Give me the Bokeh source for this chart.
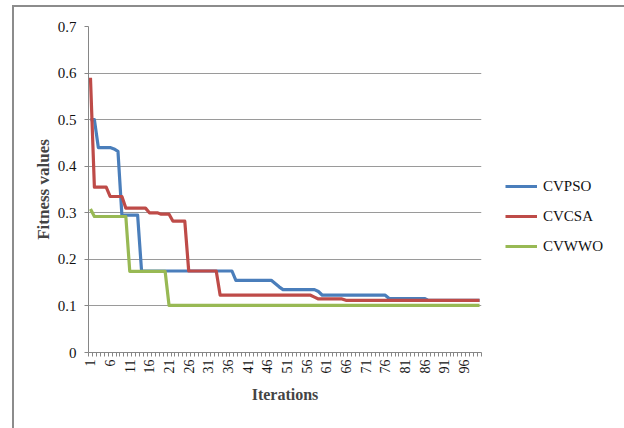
from bokeh.plotting import figure
from bokeh.models import (Range1d, FixedTicker, CustomJSTickFormatter, Legend, LegendItem)
from bokeh.embed import file_html
from bokeh.resources import INLINE
import math

iterations = list(range(1, 101))

cvpso = ([0.50, 0.50, 0.44, 0.44, 0.44, 0.44, 0.437, 0.432]
         + [0.295] * 5
         + [0.175] * 24
         + [0.155] * 10
         + [0.148, 0.141]
         + [0.135] * 9
         + [0.131]
         + [0.123] * 17
         + [0.116] * 10
         + [0.112] * 14)

cvcsa = ([0.59]
         + [0.355] * 4
         + [0.335] * 4
         + [0.31] * 6
         + [0.30] * 3
         + [0.297] * 3
         + [0.282] * 4
         + [0.175] * 8
         + [0.123] * 24
         + [0.119]
         + [0.115] * 7
         + [0.112] * 35)

cvwwo = ([0.308]
         + [0.292] * 9
         + [0.174] * 10
         + [0.101] * 80)

series_names = ["CVPSO", "CVCSA", "CVWWO"]
series_colors = ["#4A7EBB", "#BE4B48", "#98B954"]
x_tick_values = list(range(1, 100, 5))
y_tick_values = [0, 0.1, 0.2, 0.3, 0.4, 0.5, 0.6, 0.7]

FONT = "Liberation Serif"

p = figure(frame_width=393, frame_height=326, output_backend="svg", toolbar_location=None,
           x_range=Range1d(0.5, 100.5), y_range=Range1d(0, 0.7),
           min_border_left=74, min_border_right=138, min_border_top=19, min_border_bottom=76)
p.outline_line_color = None
p.background_fill_color = "white"
p.border_fill_color = "white"
p.styles = {"border-top": "2px solid #8c8c8c", "border-left": "2px solid #8c8c8c",
            "border-right": "2px solid #8c8c8c", "margin-left": "12px", "margin-top": "5px"}

renderers = []
for vals, name, col in zip([cvpso, cvcsa, cvwwo], series_names, series_colors):
    r = p.line(iterations, vals, line_color=col, line_width=3.2, line_join="round")
    renderers.append((name, r))

# x axis
xa = p.xaxis[0]
xa.ticker = FixedTicker(ticks=x_tick_values, minor_ticks=[i + 0.5 for i in range(0, 101)])
xa.major_tick_out = 0
xa.major_tick_in = 0
xa.minor_tick_out = 4
xa.minor_tick_in = 0
xa.minor_tick_line_color = "#868686"
xa.axis_line_color = "#868686"
xa.major_label_orientation = math.pi / 2
xa.major_label_text_font = FONT
xa.major_label_text_font_size = "14px"
xa.major_label_text_color = "#111111"
xa.major_label_standoff = 3
xa.axis_label = "Iterations"
xa.axis_label_text_font = FONT
xa.axis_label_text_font_style = "bold"
xa.axis_label_text_font_size = "16px"
xa.axis_label_standoff = 9

ya = p.yaxis[0]
ya.ticker = FixedTicker(ticks=y_tick_values)
ya.formatter = CustomJSTickFormatter(code="return tick == 0 ? '0' : tick.toFixed(1);")
ya.major_tick_out = 4
ya.major_tick_in = 0
ya.minor_tick_out = 0
ya.minor_tick_in = 0
ya.major_tick_line_color = "#868686"
ya.axis_line_color = "#868686"
ya.major_label_text_font = FONT
ya.major_label_text_font_size = "15px"
ya.major_label_text_color = "#111111"
ya.major_label_standoff = 8
ya.axis_label = "Fitness values"
ya.axis_label_text_font = FONT
ya.axis_label_text_font_style = "bold"
ya.axis_label_text_font_size = "17px"
ya.axis_label_standoff = 2

p.xgrid.grid_line_color = None
p.ygrid.ticker = FixedTicker(ticks=y_tick_values)
p.ygrid.grid_line_color = "#9a9a9a"
p.ygrid.grid_line_width = 1

legend = Legend(items=[LegendItem(label=n, renderers=[r]) for n, r in renderers],
                location=(24, 96), orientation="vertical",
                padding=0, margin=0, spacing=10, glyph_width=32, glyph_height=20,
                label_height=20, label_standoff=6,
                label_text_font=FONT, label_text_font_size="15px",
                label_text_color="#111111",
                border_line_color=None, background_fill_alpha=0)
p.add_layout(legend, "right")

open("out.html", "w").write(file_html(p, INLINE))
